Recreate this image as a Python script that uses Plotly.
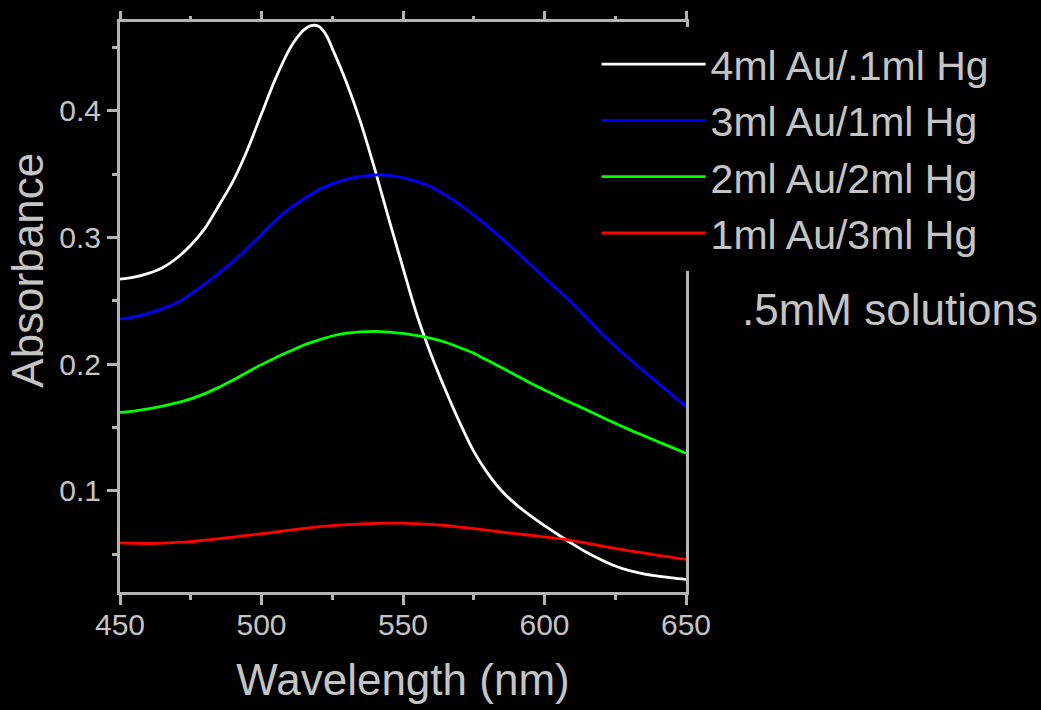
import plotly.graph_objects as go

# ---- data ----
# shared wavelength grid (every 5 nm) for the three broad curves
wavelength = list(range(450, 655, 5))

# the sharp white peak is read a little more densely near its top
wl_white = [450, 455, 460, 465, 470, 475, 480, 485, 490, 495, 500, 505, 510, 512.5, 515, 517.5,
            520, 522.5, 525, 530, 535, 540, 545, 550, 555, 560, 565, 570, 575, 580, 585, 590,
            595, 600, 605, 610, 615, 620, 625, 630, 635, 640, 645, 650]
abs_white = [0.2670, 0.2685, 0.2715, 0.2760, 0.2835, 0.2938, 0.3071, 0.3254, 0.3446, 0.3690,
             0.3975, 0.4255, 0.4490, 0.4575, 0.4638, 0.4671, 0.4668, 0.4610, 0.4492, 0.4225,
             0.3910, 0.3540, 0.3144, 0.2758, 0.2381, 0.2070, 0.1795, 0.1540, 0.1310, 0.1135,
             0.0995, 0.0890, 0.0803, 0.0724, 0.0650, 0.0578, 0.0512, 0.0455, 0.0405, 0.0368,
             0.0343, 0.0326, 0.0312, 0.0300]

abs_blue = [0.2356, 0.2372, 0.2400, 0.2437, 0.2483, 0.2552, 0.2632, 0.2718, 0.2810, 0.2915,
            0.3025, 0.3136, 0.3228, 0.3305, 0.3372, 0.3422, 0.3458, 0.3480, 0.3492, 0.3489,
            0.3470, 0.3440, 0.3398, 0.3333, 0.3261, 0.3175, 0.3085, 0.2990, 0.2888, 0.2785,
            0.2683, 0.2580, 0.2475, 0.2360, 0.2245, 0.2140, 0.2040, 0.1945, 0.1853, 0.1758,
            0.1663]

abs_green = [0.1618, 0.1628, 0.1646, 0.1668, 0.1693, 0.1725, 0.1766, 0.1817, 0.1873, 0.1935,
             0.1995, 0.2050, 0.2100, 0.2150, 0.2188, 0.2221, 0.2243, 0.2254, 0.2258, 0.2252,
             0.2241, 0.2224, 0.2203, 0.2172, 0.2130, 0.2085, 0.2027, 0.1970, 0.1910, 0.1850,
             0.1795, 0.1740, 0.1688, 0.1637, 0.1584, 0.1532, 0.1482, 0.1435, 0.1388, 0.1342,
             0.1296]

abs_red = [0.0588, 0.0585, 0.0583, 0.0586, 0.0591, 0.0598, 0.0609, 0.0621, 0.0634, 0.0647,
           0.0660, 0.0674, 0.0688, 0.0702, 0.0715, 0.0724, 0.0732, 0.0737, 0.0741, 0.0743,
           0.0743, 0.0739, 0.0734, 0.0725, 0.0713, 0.0701, 0.0687, 0.0673, 0.0660, 0.0648,
           0.0635, 0.0621, 0.0605, 0.0585, 0.0565, 0.0545, 0.0525, 0.0508, 0.0490, 0.0474,
           0.0458]

series_names = ["4ml Au/.1ml Hg", "3ml Au/1ml Hg", "2ml Au/2ml Hg", "1ml Au/3ml Hg"]
series_colors = ["#ffffff", "#0000ff", "#00ff00", "#ff0000"]
series_x = [wl_white, wavelength, wavelength, wavelength]
series_y = [abs_white, abs_blue, abs_green, abs_red]

x_ticks = [450, 500, 550, 600, 650]
y_ticks = [0.1, 0.2, 0.3, 0.4]
x_range = [450, 650]
y_range = [0.02, 0.47]

TXT = "#c4c4c4"
AX = "#b4b4b4"
FONT = "Liberation Sans, Arial, sans-serif"

fig = go.Figure()
for name, col, xs, ys in zip(series_names, series_colors, series_x, series_y):
    fig.add_trace(go.Scatter(x=xs, y=ys, mode="lines", name=name,
                             line=dict(color=col, width=2.8, shape="spline", smoothing=1)))

# invisible trace to activate the top axis
fig.add_trace(go.Scatter(x=x_range, y=y_range, xaxis="x2", mode="lines",
                         line=dict(width=0), showlegend=False, hoverinfo="skip"))

fig.update_layout(
    width=1041, height=710,
    margin=dict(l=120, r=355, t=19, b=118),
    paper_bgcolor="black", plot_bgcolor="black",
    font=dict(family=FONT, color=TXT),
    showlegend=True,
    legend=dict(x=0.835, y=0.9913, xanchor="left", yanchor="top",
                bgcolor="black", bordercolor="black", borderwidth=4,
                font=dict(size=41, color=TXT, family=FONT),
                itemwidth=104, tracegroupgap=0),
    xaxis=dict(range=x_range, tickvals=x_ticks, ticks="outside", ticklen=10, tickwidth=2.5,
               tickcolor=AX, showline=True, linecolor=AX, linewidth=3, mirror=True,
               showgrid=False, zeroline=False, tickfont=dict(size=30, color=TXT),
               ticklabelstandoff=-6,
               minor=dict(dtick=25, ticks="outside", ticklen=5, tickwidth=2.5, tickcolor=AX),
               title=dict(text="Wavelength (nm)", font=dict(size=44, color=TXT), standoff=25)),
    xaxis2=dict(range=x_range, overlaying="x", side="top", tickvals=x_ticks, ticks="outside",
                ticklen=10, tickwidth=2.5, tickcolor=AX, showticklabels=False, showline=False,
                showgrid=False, zeroline=False,
                minor=dict(dtick=25, ticks="outside", ticklen=5, tickwidth=2.5, tickcolor=AX)),
    yaxis=dict(range=y_range, tickvals=y_ticks, ticks="outside", ticklen=10, tickwidth=2.5,
               tickcolor=AX, showline=True, linecolor=AX, linewidth=3, mirror=True,
               showgrid=False, zeroline=False, tickfont=dict(size=30, color=TXT),
               minor=dict(tick0=0, dtick=0.05, ticks="outside", ticklen=5, tickwidth=2.5,
                          tickcolor=AX)),
)

fig.add_annotation(text="Absorbance", xref="paper", yref="paper", x=-0.1625, y=0.5637,
                   xanchor="center", yanchor="middle", textangle=-90, showarrow=False,
                   font=dict(size=44, color=TXT, family=FONT))
fig.add_annotation(text=".5mM solutions", xref="paper", yref="paper", x=1.0954, y=0.4956,
                   xanchor="left", yanchor="middle", showarrow=False,
                   font=dict(size=44, color=TXT, family=FONT))

fig.write_html("out.html")
